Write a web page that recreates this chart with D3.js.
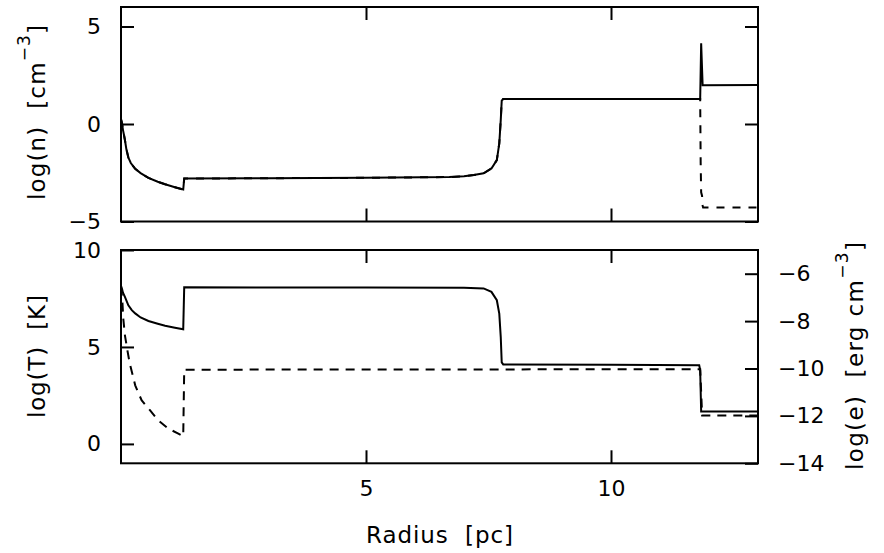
<!DOCTYPE html>
<html><head><meta charset="utf-8">
<script src="https://cdn.jsdelivr.net/npm/d3@7"></script>
<style>
body{margin:0;background:#fff}
svg{display:block}
text{font-family:"DejaVu Sans",sans-serif;fill:#000;white-space:pre}
</style></head><body>
<svg id="c" width="884" height="553"></svg>
<script>
// ---- data ----
const radiusTicks = [5, 10];
const densityTicks = [-5, 0, 5];
const tempTicks = [0, 5, 10];
const energyTicks = [-14, -12, -10, -8, -6];

// top panel: log(n), solid
const densitySolid = [[0,0.25],[0.02,0.05],[0.04,-0.3],[0.06,-0.55],[0.08,-0.82],[0.11,-1.3],[0.15,-1.72],[0.2,-2.0],[0.29,-2.3],[0.4,-2.52],[0.56,-2.76],[0.75,-2.96],[0.9,-3.09],[1.1,-3.24],[1.27,-3.36],[1.29,-2.8],[3,-2.78],[5,-2.76],[6.7,-2.72],[7.0,-2.68],[7.2,-2.62],[7.4,-2.53],[7.56,-2.28],[7.67,-1.85],[7.72,-0.99],[7.75,0.2],[7.77,1.2],[7.8,1.28],[11.82,1.28],[11.84,4.14],[11.87,1.99],[13,2.0]];
// top panel: log(n), dashed
const densityDashed = [[0,0.25],[0.02,0.05],[0.04,-0.3],[0.06,-0.55],[0.08,-0.82],[0.11,-1.3],[0.15,-1.72],[0.2,-2.0],[0.29,-2.3],[0.4,-2.52],[0.56,-2.76],[0.75,-2.96],[0.9,-3.09],[1.1,-3.24],[1.27,-3.36],[1.29,-2.8],[3,-2.78],[5,-2.76],[6.7,-2.72],[7.0,-2.68],[7.2,-2.62],[7.4,-2.53],[7.56,-2.28],[7.67,-1.85],[7.72,-0.99],[7.75,0.2],[7.77,1.2],[7.8,1.28],[11.82,1.28],[11.83,-2.0],[11.84,-3.5],[11.86,-3.7],[11.85,-4.0],[11.88,-4.28],[13,-4.28]];
// bottom panel: log(T), solid, left axis
const tempSolid = [[0,8.15],[0.02,8.0],[0.04,7.8],[0.08,7.58],[0.15,7.15],[0.22,6.9],[0.29,6.73],[0.4,6.52],[0.56,6.34],[0.75,6.2],[0.9,6.09],[1.1,5.99],[1.27,5.91],[1.29,8.08],[3,8.07],[5,8.06],[7.0,8.05],[7.4,8.02],[7.56,7.84],[7.67,7.41],[7.72,6.72],[7.75,5.51],[7.77,4.2],[7.8,4.1],[10,4.08],[11.8,4.06],[11.82,3.8],[11.84,1.67],[13,1.67]];
// bottom panel: log(e), dashed, right axis
const energyDashed = [[0,-6.55],[0.027,-7.13],[0.047,-7.9],[0.08,-8.6],[0.137,-9.31],[0.18,-9.8],[0.29,-10.71],[0.42,-11.34],[0.59,-11.76],[0.76,-12.19],[0.97,-12.54],[1.17,-12.75],[1.27,-12.86],[1.29,-10.05],[11.82,-10.03],[11.86,-11.98],[13,-11.98]];

// ---- layout ----
const svg = d3.select("#c");
const L = 121, R = 758;
const t1 = 7, b1 = 221.5, t2 = 250, b2 = 463.3;
const tick = 13, fs = 22;

const x = d3.scaleLinear().domain([0, 13]).range([L, R]);
const yN = d3.scaleLinear().domain([-5, 6]).range([b1, t1]);
const yT = d3.scaleLinear().domain([-1, 10]).range([b2, t2]);
const yE = d3.scaleLinear().domain([-14, -5]).range([b2, t2]);

function styleAxis(g, labels) {
  g.select(".domain").remove();
  g.selectAll(".tick line").attr("stroke", "#000").attr("stroke-width", 2);
  g.selectAll(".tick text").attr("font-size", fs).attr("fill", "#000")
    .attr("font-family", "DejaVu Sans, sans-serif");
  if (!labels) g.selectAll(".tick text").remove();
}

// top panel axes
svg.append("g").attr("transform", `translate(${L},0)`)
  .call(d3.axisLeft(yN).tickValues(densityTicks).tickSize(-tick).tickPadding(20))
  .call(g => styleAxis(g, true));
svg.append("g").attr("transform", `translate(${R},0)`)
  .call(d3.axisRight(yN).tickValues(densityTicks).tickSize(-tick))
  .call(g => styleAxis(g, false));
svg.append("g").attr("transform", `translate(0,${b1})`)
  .call(d3.axisBottom(x).tickValues(radiusTicks).tickSize(-tick))
  .call(g => styleAxis(g, false));
svg.append("g").attr("transform", `translate(0,${t1})`)
  .call(d3.axisTop(x).tickValues(radiusTicks).tickSize(-tick))
  .call(g => styleAxis(g, false));

// bottom panel axes
svg.append("g").attr("transform", `translate(${L},0)`)
  .call(d3.axisLeft(yT).tickValues(tempTicks).tickSize(-tick).tickPadding(20))
  .call(g => styleAxis(g, true));
svg.append("g").attr("transform", `translate(${R},0)`)
  .call(d3.axisRight(yE).tickValues(energyTicks).tickSize(-tick).tickPadding(20))
  .call(g => styleAxis(g, true));
svg.append("g").attr("transform", `translate(0,${b2})`)
  .call(d3.axisBottom(x).tickValues(radiusTicks).tickSize(-tick).tickPadding(17))
  .call(g => styleAxis(g, true));
svg.append("g").attr("transform", `translate(0,${t2})`)
  .call(d3.axisTop(x).tickValues(radiusTicks).tickSize(-tick))
  .call(g => styleAxis(g, false));

// frames
[[t1, b1], [t2, b2]].forEach(([a, b]) => {
  svg.append("rect").attr("x", L).attr("y", a).attr("width", R - L).attr("height", b - a)
    .attr("fill", "none").attr("stroke", "#000").attr("stroke-width", 2);
});

// lines
const lineN = d3.line().x(d => x(d[0])).y(d => yN(d[1]));
const lineT = d3.line().x(d => x(d[0])).y(d => yT(d[1]));
const lineE = d3.line().x(d => x(d[0])).y(d => yE(d[1]));

svg.append("path").datum(densityDashed).attr("d", lineN)
  .attr("fill", "none").attr("stroke", "#000").attr("stroke-width", 2).attr("stroke-dasharray", "8,8");
svg.append("path").datum(densitySolid).attr("d", lineN)
  .attr("fill", "none").attr("stroke", "#000").attr("stroke-width", 2);
svg.append("path").datum(tempSolid).attr("d", lineT)
  .attr("fill", "none").attr("stroke", "#000").attr("stroke-width", 2);
svg.append("path").datum(energyDashed).attr("d", lineE)
  .attr("fill", "none").attr("stroke", "#000").attr("stroke-width", 2).attr("stroke-dasharray", "9,7");

// titles
function rotTitle(cx, cy, len, parts) {
  const t = svg.append("text").attr("transform", `translate(${cx},${cy}) rotate(-90)`)
    .attr("text-anchor", "middle").attr("font-size", 23)
    .attr("textLength", len).attr("lengthAdjust", "spacing");
  parts.forEach(p => {
    const s = t.append("tspan").text(p.t);
    if (p.sup) s.attr("font-size", 17).attr("baseline-shift", "15px");
  });
  return t;
}
rotTitle(45, 112.5, 175, [{t: "log(n)  [cm"}, {t: "−3", sup: true}, {t: "]"}]);
rotTitle(45, 356.5, 123, [{t: "log(T)  [K]"}]);
rotTitle(863, 356, 228, [{t: "log(e)  [erg cm"}, {t: "−3", sup: true}, {t: "]"}]);

svg.append("text").attr("x", (L + R) / 2).attr("y", 543).attr("text-anchor", "middle")
  .attr("font-size", 23).attr("textLength", 147).attr("lengthAdjust", "spacing")
  .text("Radius  [pc]");
</script>
</body></html>
